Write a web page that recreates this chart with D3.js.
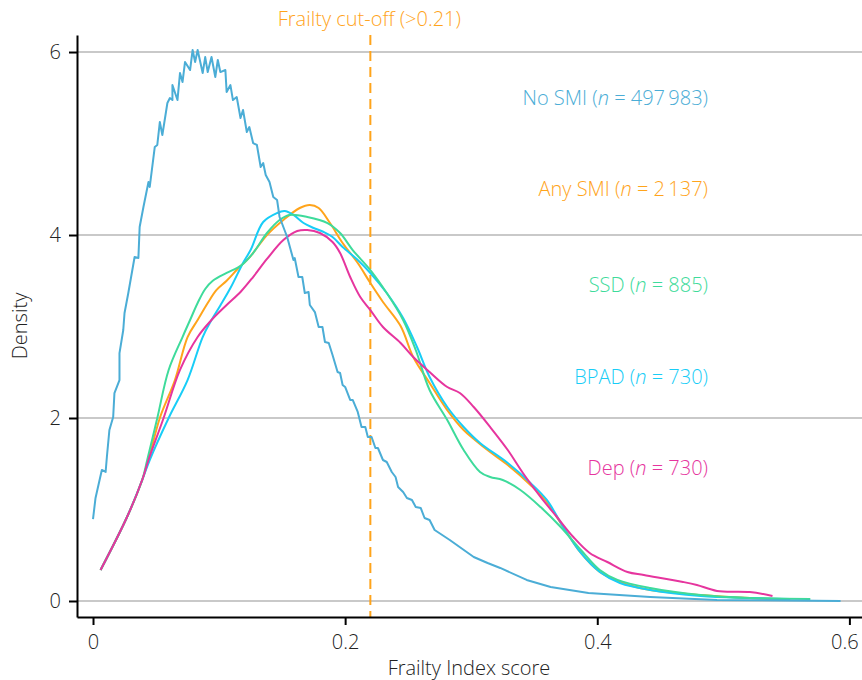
<!DOCTYPE html>
<html>
<head>
<meta charset="utf-8">
<script src="https://cdn.jsdelivr.net/npm/d3@7"></script>
<style>
  body { margin: 0; background: #fff; }
  svg text { font-family: "Open Sans", "Noto Sans", sans-serif; font-weight: 300; }
</style>
</head>
<body>
<svg id="chart" width="862" height="680"></svg>
<script>
// Frailty Index score vs density
const noSmi = [
  [0.000, 0.896], [0.002, 1.126], [0.007, 1.432], [0.010, 1.410], [0.011, 1.574],
  [0.013, 1.869], [0.016, 2.011], [0.017, 2.273], [0.021, 2.415], [0.021, 2.710],
  [0.024, 2.962], [0.025, 3.148], [0.028, 3.366], [0.033, 3.760], [0.036, 3.749],
  [0.037, 4.087], [0.040, 4.306], [0.044, 4.579], [0.045, 4.525], [0.049, 4.962],
  [0.051, 4.984], [0.053, 5.235], [0.055, 5.093], [0.059, 5.443], [0.061, 5.497],
  [0.063, 5.475], [0.063, 5.639], [0.067, 5.475], [0.069, 5.770], [0.071, 5.672],
  [0.073, 5.891], [0.077, 5.803], [0.079, 6.022], [0.081, 5.891], [0.083, 6.022],
  [0.087, 5.770], [0.089, 5.945], [0.091, 5.781], [0.094, 5.945], [0.097, 5.727],
  [0.099, 5.913], [0.101, 5.781], [0.105, 5.803], [0.106, 5.563], [0.109, 5.639],
  [0.111, 5.475], [0.114, 5.508], [0.117, 5.279], [0.119, 5.366], [0.122, 5.126],
  [0.124, 5.180], [0.127, 5.005], [0.130, 4.984], [0.133, 4.743], [0.135, 4.787],
  [0.137, 4.656], [0.140, 4.579], [0.143, 4.415], [0.146, 4.383], [0.148, 4.197],
  [0.154, 3.978], [0.159, 3.727], [0.160, 3.749], [0.163, 3.541], [0.166, 3.541],
  [0.168, 3.366], [0.171, 3.377], [0.172, 3.235], [0.176, 3.158], [0.179, 2.995],
  [0.182, 2.995], [0.184, 2.831], [0.187, 2.820], [0.190, 2.689], [0.194, 2.503],
  [0.196, 2.492], [0.198, 2.361], [0.200, 2.339], [0.204, 2.197], [0.206, 2.197],
  [0.210, 2.066], [0.213, 1.902], [0.216, 1.902], [0.218, 1.792], [0.221, 1.792],
  [0.224, 1.672], [0.226, 1.672], [0.230, 1.541], [0.233, 1.519], [0.237, 1.410],
  [0.240, 1.355], [0.242, 1.246], [0.246, 1.191], [0.249, 1.126], [0.253, 1.104],
  [0.256, 1.027], [0.260, 1.016], [0.263, 0.907], [0.267, 0.885], [0.271, 0.776],
  [0.283, 0.667], [0.302, 0.481], [0.313, 0.415], [0.323, 0.361], [0.344, 0.230],
  [0.363, 0.153], [0.393, 0.087], [0.442, 0.044], [0.495, 0.011], [0.593, 0.000]
];

const anySmi = [
  [0.006, 0.339], [0.027, 0.918], [0.039, 1.322], [0.044, 1.541], [0.053, 2.000],
  [0.065, 2.415], [0.075, 2.885], [0.083, 3.071], [0.091, 3.257], [0.098, 3.400],
  [0.106, 3.500], [0.114, 3.617], [0.118, 3.672], [0.125, 3.770], [0.138, 4.000],
  [0.151, 4.164], [0.164, 4.295], [0.172, 4.328], [0.179, 4.295], [0.188, 4.131],
  [0.198, 3.913], [0.210, 3.694], [0.220, 3.475], [0.230, 3.268], [0.244, 3.005],
  [0.254, 2.667], [0.267, 2.383], [0.281, 2.087], [0.294, 1.869], [0.303, 1.760],
  [0.315, 1.628], [0.329, 1.486], [0.347, 1.268], [0.360, 1.082], [0.373, 0.809],
  [0.387, 0.525], [0.402, 0.317], [0.418, 0.208], [0.442, 0.120], [0.482, 0.066],
  [0.521, 0.033], [0.553, 0.022]
];

const bpad = [
  [0.006, 0.339], [0.027, 0.918], [0.039, 1.322], [0.045, 1.541], [0.060, 2.000],
  [0.075, 2.415], [0.087, 2.885], [0.094, 3.071], [0.101, 3.230], [0.109, 3.420],
  [0.119, 3.694], [0.125, 3.836], [0.135, 4.142], [0.146, 4.240], [0.152, 4.262],
  [0.159, 4.219], [0.167, 4.131], [0.175, 4.077], [0.183, 4.033], [0.190, 3.978],
  [0.198, 3.869], [0.210, 3.727], [0.220, 3.585], [0.233, 3.366], [0.246, 3.093],
  [0.257, 2.776], [0.267, 2.448], [0.281, 2.120], [0.294, 1.902], [0.307, 1.727],
  [0.329, 1.508], [0.347, 1.290], [0.360, 1.104], [0.373, 0.809], [0.387, 0.525],
  [0.402, 0.317], [0.418, 0.197], [0.442, 0.120], [0.482, 0.055], [0.521, 0.033],
  [0.553, 0.022]
];

const ssd = [
  [0.006, 0.339], [0.027, 0.918], [0.039, 1.322], [0.043, 1.541], [0.051, 2.000],
  [0.060, 2.525], [0.071, 2.885], [0.077, 3.071], [0.083, 3.257], [0.089, 3.410],
  [0.095, 3.500], [0.106, 3.585], [0.114, 3.639], [0.118, 3.672], [0.127, 3.803],
  [0.138, 4.022], [0.148, 4.164], [0.156, 4.219], [0.170, 4.197], [0.186, 4.131],
  [0.196, 4.022], [0.206, 3.836], [0.220, 3.617], [0.233, 3.366], [0.246, 3.071],
  [0.256, 2.743], [0.267, 2.306], [0.281, 1.978], [0.294, 1.650], [0.307, 1.410],
  [0.315, 1.355], [0.325, 1.322], [0.339, 1.213], [0.355, 1.027], [0.371, 0.809],
  [0.387, 0.557], [0.402, 0.339], [0.416, 0.230], [0.442, 0.142], [0.482, 0.066],
  [0.521, 0.033], [0.569, 0.022]
];

const dep = [
  [0.006, 0.339], [0.027, 0.918], [0.039, 1.322], [0.044, 1.541], [0.056, 2.000],
  [0.069, 2.525], [0.083, 2.885], [0.094, 3.071], [0.106, 3.235], [0.117, 3.377],
  [0.127, 3.541], [0.138, 3.738], [0.151, 3.945], [0.162, 4.044], [0.170, 4.055],
  [0.180, 4.022], [0.190, 3.923], [0.196, 3.803], [0.204, 3.541], [0.212, 3.322],
  [0.220, 3.180], [0.230, 2.995], [0.244, 2.820], [0.254, 2.667], [0.267, 2.503],
  [0.281, 2.339], [0.291, 2.273], [0.302, 2.120], [0.315, 1.902], [0.329, 1.650],
  [0.341, 1.399], [0.355, 1.137], [0.368, 0.918], [0.381, 0.699], [0.394, 0.525],
  [0.408, 0.426], [0.424, 0.317], [0.437, 0.284], [0.468, 0.208], [0.479, 0.175],
  [0.495, 0.110], [0.521, 0.098], [0.539, 0.055]
];

const xTicks = [0, 0.2, 0.4, 0.6];
const yTicks = [0, 2, 4, 6];
const cutOff = 0.22;

const series = [
  { name: "Any SMI", n: "2\u2009137", data: anySmi, color: "#FFA41B", labelY: 4.5, jagged: false },
  { name: "BPAD", n: "730", data: bpad, color: "#18CDF7", labelY: 2.45, jagged: false },
  { name: "SSD", n: "885", data: ssd, color: "#3EDB9B", labelY: 3.45, jagged: false },
  { name: "Dep", n: "730", data: dep, color: "#E6359E", labelY: 1.45, jagged: false },
  { name: "No SMI", n: "497\u2009983", data: noSmi, color: "#4BADD6", labelY: 5.5, jagged: true }
];

const svg = d3.select("#chart");

const x = d3.scaleLinear().domain([-0.0127, 0.61]).range([77, 862]);
const y = d3.scaleLinear().domain([-0.175, 6.186]).range([617, 35]);

// gridlines
svg.append("g")
  .selectAll("line")
  .data(yTicks)
  .join("line")
  .attr("x1", 77)
  .attr("x2", 862)
  .attr("y1", (d) => y(d))
  .attr("y2", (d) => y(d))
  .attr("stroke", "#c9c9c9")
  .attr("stroke-width", 2);

// cut-off
svg.append("line")
  .attr("x1", x(cutOff))
  .attr("x2", x(cutOff))
  .attr("y1", 35)
  .attr("y2", 617)
  .attr("stroke", "#FFA41B")
  .attr("stroke-width", 2)
  .attr("stroke-dasharray", "10,6");

svg.append("text")
  .attr("x", x(cutOff) - 1)
  .attr("y", 26)
  .attr("text-anchor", "middle")
  .attr("font-size", "20px")
  .attr("fill", "#FFA41B")
  .text("Frailty cut-off (>0.21)");

// curves
const line = d3.line()
  .x((d) => x(d[0]))
  .y((d) => y(d[1]));

series.forEach((s) => {
  svg.append("path")
    .datum(s.data)
    .attr("fill", "none")
    .attr("stroke", s.color)
    .attr("stroke-width", 2)
    .attr("stroke-linejoin", "round")
    .attr("d", line.curve(s.jagged ? d3.curveLinear : d3.curveCatmullRom.alpha(0.5)));

  const t = svg.append("text")
    .attr("x", 708)
    .attr("y", y(s.labelY) + 7)
    .attr("text-anchor", "end")
    .attr("font-size", "20px")
    .attr("fill", s.color);
  t.append("tspan").text(s.name + " (");
  t.append("tspan").attr("font-style", "italic").text("n");
  t.append("tspan").text(" = " + s.n + ")");
});

// axes
const xAxis = svg.append("g")
  .attr("transform", "translate(0,617)")
  .call(d3.axisBottom(x).tickValues(xTicks)
    .tickFormat((d) => d === 0 ? "0" : d3.format(".1f")(d))
    .tickSize(8).tickSizeOuter(0));
const yAxis = svg.append("g")
  .attr("transform", "translate(77,0)")
  .call(d3.axisLeft(y).tickValues(yTicks).tickFormat(d3.format("d"))
    .tickSize(8).tickSizeOuter(0));

[xAxis, yAxis].forEach((g) => {
  g.select(".domain").attr("stroke", "#000").attr("stroke-width", 2);
  g.selectAll(".tick line").attr("stroke", "#000").attr("stroke-width", 2);
  g.selectAll(".tick text")
    .attr("font-family", "'Open Sans', sans-serif")
    .attr("font-weight", 300)
    .attr("font-size", "20px")
    .attr("fill", "#222");
});
xAxis.selectAll(".tick text").attr("dy", "1.05em");
// keep the last label inside the frame
xAxis.selectAll(".tick text").filter((d) => d === 0.6).attr("dx", "-0.25em");
yAxis.selectAll(".tick text").attr("dx", "-0.25em");

svg.append("text")
  .attr("x", 469)
  .attr("y", 675)
  .attr("text-anchor", "middle")
  .attr("font-size", "20px")
  .attr("fill", "#222")
  .text("Frailty Index score");

svg.append("text")
  .attr("transform", "translate(27,326) rotate(-90)")
  .attr("text-anchor", "middle")
  .attr("font-size", "20px")
  .attr("fill", "#222")
  .text("Density");
</script>
</body>
</html>
